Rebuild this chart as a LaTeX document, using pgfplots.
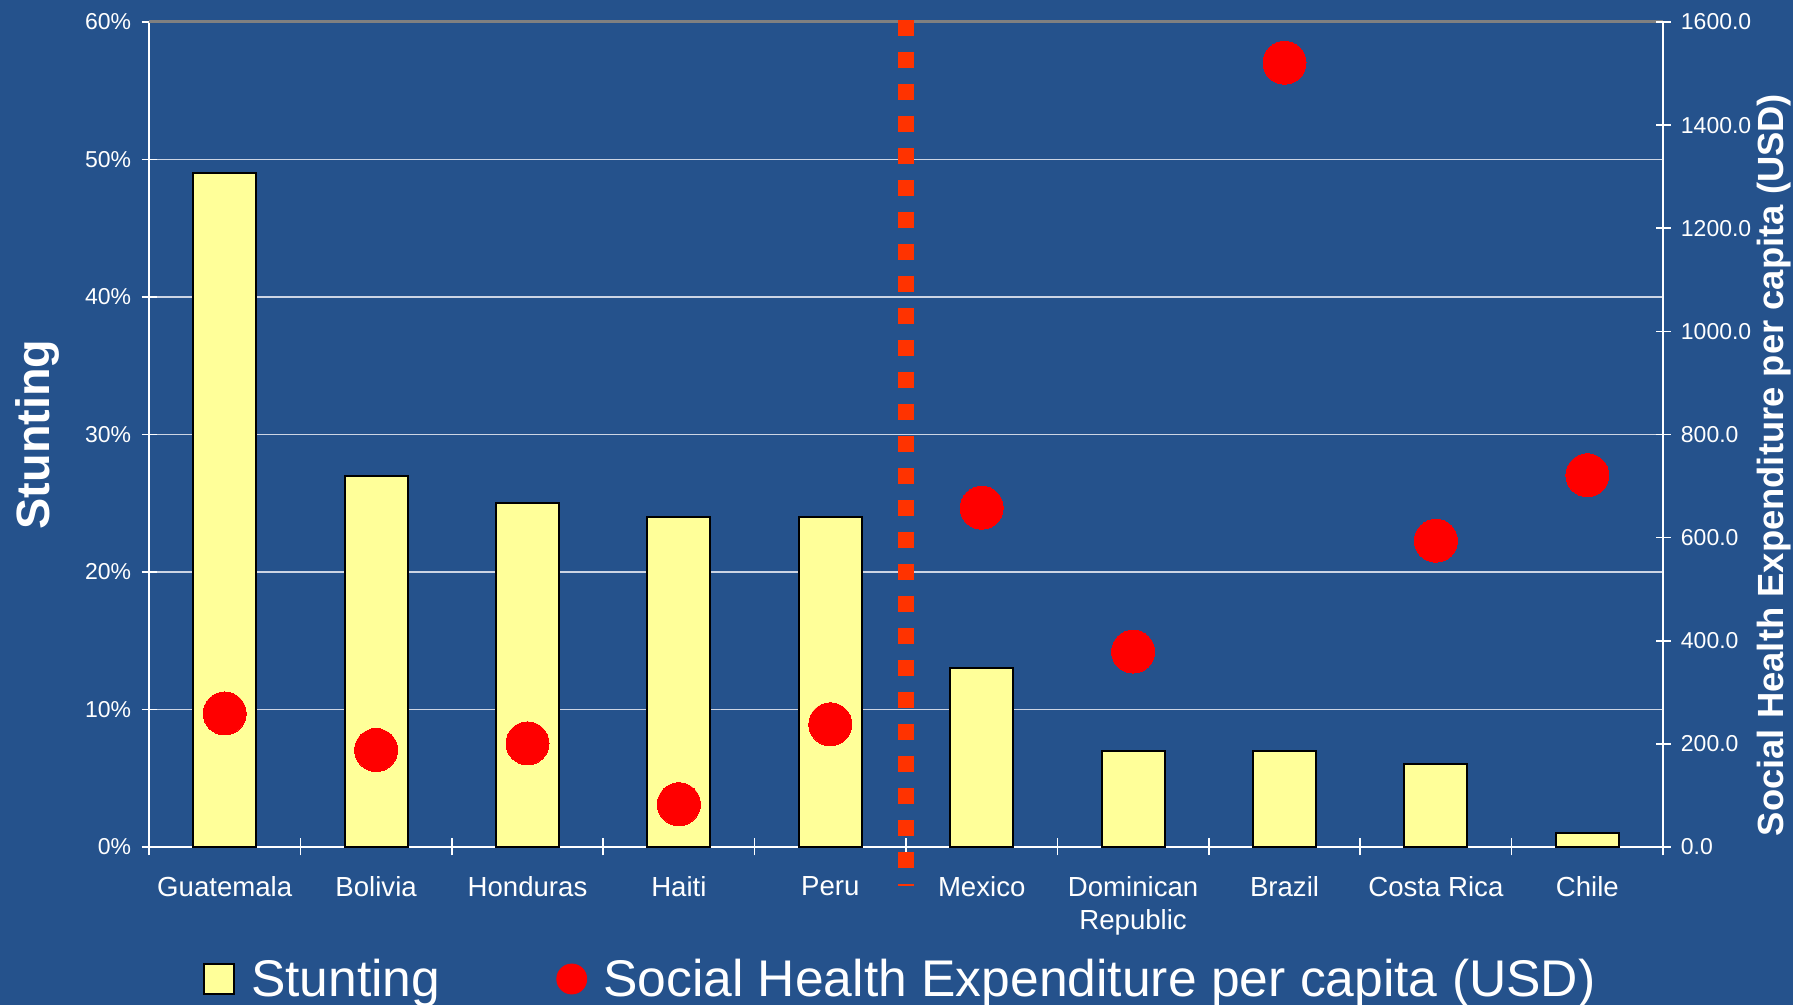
\documentclass[border=0pt]{standalone}
\usepackage{fontspec}
\setmainfont{Liberation Sans}
\usepackage{pgfplots}
\pgfplotsset{compat=1.18}
\definecolor{bg}{RGB}{37,82,140}
\definecolor{baryellow}{RGB}{255,255,153}
\definecolor{dashred}{RGB}{255,51,0}
\definecolor{gridc}{RGB}{205,213,228}
\definecolor{topgrey}{RGB}{128,128,128}
\begin{document}
\begin{tikzpicture}[x=1pt,y=1pt]
\fill[bg] (0,0) rectangle (896.5,502.5);
\useasboundingbox (0,0) rectangle (896.5,502.5);
\begin{axis}[
  at={(74.5pt,79pt)}, anchor=south west,
  scale only axis, width=757pt, height=412.5pt,
  xmin=-0.5, xmax=9.5, ymin=0, ymax=60,
  clip=false,
  axis x line*=bottom, axis y line*=left,
  axis line style={white, line width=0.8pt, -},
  xtick={0,...,9},
  xticklabels={Guatemala,Bolivia,Honduras,Haiti,Peru,Mexico,{Dominican\\Republic},Brazil,{Costa Rica},Chile},
  major x tick style={draw=none},
  minor xtick={-0.5,0.5,...,9.5},
  minor x tick style={white, line width=0.8pt},
  minor tick length=8.5pt,
  tick align=center,
  xticklabel style={white, inner sep=0pt, anchor=north, yshift=-10.6pt, align=center, font=\fontsize{13.8}{16.5}\selectfont},
  ytick={0,10,...,60},
  yticklabels={0\%,10\%,20\%,30\%,40\%,50\%,60\%},
  major tick length=7.5pt,
  major y tick style={white, line width=0.8pt},
  yticklabel style={white, inner sep=0pt, anchor=east, xshift=-5pt, font=\fontsize{11.5}{13}\selectfont},
  ymajorgrids,
  grid style={gridc, line width=0.7pt},
  ylabel={Stunting},
  ylabel style={white, font=\fontsize{23.4}{26}\selectfont\bfseries, inner sep=0pt, at={(axis description cs:-0.0885,0.5)}, anchor=north},
  legend columns=2,
  legend style={draw=none, fill=none, text=white, inner sep=0pt, outer sep=0pt,
    font=\fontsize{25.8}{30}\selectfont,
    at={(axis description cs:0.03567,-0.16)}, anchor=west,
    nodes={inner sep=0pt},
    /tikz/every odd column/.append style={column sep=8pt},
    /tikz/every even column/.append style={column sep=58pt}},
]
\addplot[ybar, bar width=31.5pt, fill=baryellow, draw=black, line width=1pt,
  legend image code/.code={\draw[fill=baryellow, draw=black, line width=1pt] (0pt,-7.5pt) rectangle (15pt,7.5pt);}]
  coordinates {(0,49) (1,27) (2,25) (3,24) (4,24) (5,13) (6,7) (7,7) (8,6) (9,1)};
\addlegendentry{Stunting}
\addlegendimage{legend image code/.code={\fill[red] (7.5pt,0pt) circle (7.5pt);}}
\addlegendentry{Social Health Expenditure per capita (USD)}
\draw[topgrey, line width=1.5pt] (axis cs:-0.5,60) -- (axis cs:9.5,60);
\end{axis}
\begin{axis}[
  at={(74.5pt,79pt)}, anchor=south west,
  scale only axis, width=757pt, height=412.5pt,
  xmin=-0.5, xmax=9.5, ymin=0, ymax=1600,
  clip=false,
  axis x line=none, axis y line*=right,
  axis line style={white, line width=0.8pt, -},
  ytick={0,200,...,1600},
  yticklabels={0.0,200.0,400.0,600.0,800.0,1000.0,1200.0,1400.0,1600.0},
  tick align=center,
  major tick length=7.5pt,
  major y tick style={white, line width=0.8pt},
  yticklabel style={white, inner sep=0pt, anchor=west, xshift=5pt, font=\fontsize{11.5}{13}\selectfont},
  ylabel={Social Health Expenditure per capita (USD)},
  ylabel style={white, font=\fontsize{18.2}{21}\selectfont\bfseries, inner sep=0pt, at={(axis description cs:1.0621,0.463)}, anchor=north},
]
\addplot[red, only marks, mark=*, mark size=10.75pt, mark options={fill=red, draw=red, line width=0pt}]
  coordinates {(0,259) (1,188) (2,201) (3,83) (4,238) (5,658) (6,379) (7,1521) (8,594) (9,721)};
\draw[dashred, line width=8pt, dash pattern=on 8pt off 8pt] ([yshift=1pt]axis cs:4.5,1600) -- ([yshift=-19.5pt]axis cs:4.5,0);
\end{axis}
\end{tikzpicture}
\end{document}
